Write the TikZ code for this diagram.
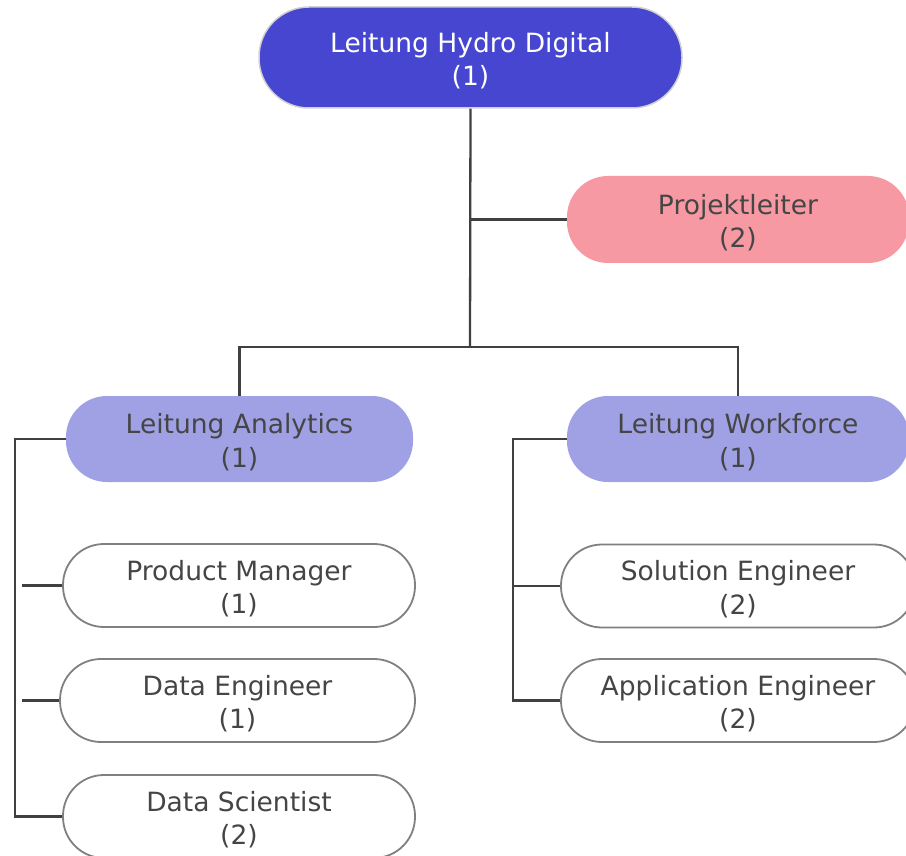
\documentclass[tikz,border=0pt]{standalone}
\usepackage{fontspec}
\setmainfont{DejaVu Sans}
\definecolor{myblue}{RGB}{70,70,208}
\definecolor{mylilac}{RGB}{160,160,228}
\definecolor{mypink}{RGB}{247,153,163}
\colorlet{mytext}{black!73}
\colorlet{myline}{black!75}
\colorlet{myrim}{black!50}

\begin{document}
\begin{tikzpicture}[x=1pt,y=-1pt]
\tikzset{BoxStyle/.style ={shape=rectangle, align=center, inner sep=0pt,
  font=\fontsize{26.5}{33.5}\selectfont, text=mytext, rounded corners=41pt,
  minimum height=83pt, text height=60pt}}
\tikzset{TopStyle/.style ={BoxStyle, fill=myblue, draw=black!18, line width=1.5pt,
  text=white, rounded corners=50pt, minimum height=101pt}}
\tikzset{LeadStyle/.style ={BoxStyle, fill=mylilac, minimum height=86pt}}
\tikzset{JobStyle/.style ={BoxStyle, fill=white, draw=myrim, line width=1.8pt}}
\tikzset{EdgeStyle/.style ={draw=myline, line width=2.3pt}}
\useasboundingbox (0,0) rectangle (906,856);
\clip (0,0) rectangle (906,856);
\node[TopStyle,minimum width=423pt] (hydro) at (470.5,57.5) {Leitung Hydro Digital\\(1)};
\node[BoxStyle,fill=mypink,minimum width=342pt,minimum height=87pt] (projekt) at (738,219.5) {Projektleiter\\(2)};
\node[LeadStyle,minimum width=347pt] (analytics) at (239.5,439) {Leitung Analytics\\(1)};
\node[LeadStyle,minimum width=342pt] (workforce) at (738,439) {Leitung Workforce\\(1)};
\node[JobStyle,minimum width=352pt] (product) at (239,585.5) {Product Manager\\(1)};
\node[JobStyle,minimum width=355pt] (dataeng) at (237.5,700.5) {Data Engineer\\(1)};
\node[JobStyle,minimum width=352pt] (datasci) at (239,816.5) {Data Scientist\\(2)};
\node[JobStyle,minimum width=354pt] (solution) at (738,586) {Solution Engineer\\(2)};
\node[JobStyle,minimum width=354pt] (application) at (738,700.5) {Application Engineer\\(2)};
\coordinate (split) at (470,347);
\coordinate (lrail) at (15,0);
\coordinate (rrail) at (513,0);
% top level
\draw[EdgeStyle] (hydro.south) -- (split);
\draw[EdgeStyle] (hydro.south |- projekt.west) -- (projekt.west);
\draw[EdgeStyle] (analytics.north) -- (analytics.north |- split) -- (workforce.north |- split) -- (workforce.north);
% analytics team
\draw[EdgeStyle] (analytics.west) -- (analytics.west -| lrail) -- (datasci.west -| lrail) -- (datasci.west);
\draw[EdgeStyle] ([xshift=7pt]product.west -| lrail) -- (product.west);
\draw[EdgeStyle] ([xshift=7pt]dataeng.west -| lrail) -- (dataeng.west);
% workforce team
\draw[EdgeStyle] (workforce.west) -- (workforce.west -| rrail) -- (application.west -| rrail) -- (application.west);
\draw[EdgeStyle] (solution.west -| rrail) -- (solution.west);
\end{tikzpicture}
\end{document}
